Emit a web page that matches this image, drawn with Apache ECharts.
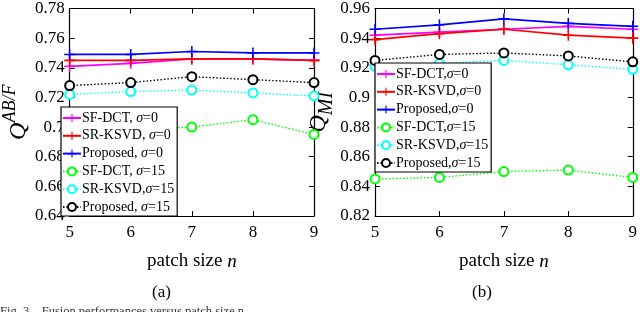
<!DOCTYPE html>
<html><head><meta charset="utf-8">
<script src="https://cdn.jsdelivr.net/npm/echarts@6/dist/echarts.min.js"></script>
<style>html,body{margin:0;padding:0;background:#fff}#c{width:640px;height:312px}</style>
</head><body><div id="c"></div>
<script>
const patchSizes = [5, 6, 7, 8, 9];
// (a) Q^{AB/F}
const qabfSfDct0   = [0.741, 0.743, 0.746, 0.746, 0.745];
const qabfSrKsvd0  = [0.745, 0.745, 0.746, 0.746, 0.745];
const qabfProp0    = [0.749, 0.749, 0.751, 0.750, 0.750];
const qabfSfDct15  = [0.696, 0.698, 0.700, 0.705, 0.695];
const qabfSrKsvd15 = [0.722, 0.724, 0.725, 0.723, 0.721];
const qabfProp15   = [0.728, 0.730, 0.734, 0.732, 0.730];
// (b) Q_MI
const qmiSfDct0   = [0.942, 0.944, 0.946, 0.948, 0.946];
const qmiSrKsvd0  = [0.939, 0.943, 0.946, 0.942, 0.940];
const qmiProp0    = [0.946, 0.949, 0.953, 0.950, 0.948];
const qmiSfDct15  = [0.845, 0.846, 0.850, 0.851, 0.846];
const qmiSrKsvd15 = [0.921, 0.923, 0.925, 0.922, 0.919];
const qmiProp15   = [0.925, 0.929, 0.930, 0.928, 0.924];

const namesA = ['SF-DCT, σ=0', 'SR-KSVD, σ=0', 'Proposed, σ=0', 'SF-DCT, σ=15', 'SR-KSVD,σ=15', 'Proposed, σ=15'];
const namesB = ['SF-DCT,σ=0', 'SR-KSVD,σ=0', 'Proposed,σ=0', 'SF-DCT,σ=15', 'SR-KSVD,σ=15 ', 'Proposed,σ=15'];
const colors = ['#ff00ff', '#ff0000', '#0000ff', '#00ff00', '#00ffff', '#000000'];

const FONT = 'Liberation Serif';
const plus = 'path://M4.3,0H5.7V4.3H10V5.7H5.7V10H4.3V5.7H0V4.3H4.3Z';

function mkSeries(names, datas, xi, yi) {
  return datas.map((d, i) => {
    const solid = i < 3;
    return {
      name: names[i], type: 'line', xAxisIndex: xi, yAxisIndex: yi,
      data: patchSizes.map((x, k) => [x, d[k]]),
      symbol: solid ? plus : 'emptyCircle',
      symbolSize: solid ? 11 : 9,
      showAllSymbol: true,
      lineStyle: { color: colors[i], width: solid ? 1.7 : 1.4, type: solid ? 'solid' : [1.5, 2] },
      itemStyle: { color: colors[i], borderColor: colors[i], borderWidth: solid ? 0 : 1.7 },
      emphasis: { disabled: true }, animation: false, z: 3
    };
  });
}

function legendFmt(name) {
  const n = name.trim();
  const idx = n.indexOf('σ');
  return '{a|' + n.slice(0, idx) + '}{i|σ}{a|' + n.slice(idx + 1) + '}';
}

const axCommon = {
  axisLine: { show: true, onZero: false, lineStyle: { color: '#000', width: 1.2 } },
  axisTick: { show: true, inside: true, length: 5, lineStyle: { color: '#000' } },
  splitLine: { show: false }
};

function xAxes(gi) {
  return [
    Object.assign({}, axCommon, {
      type: 'value', gridIndex: gi, min: 5, max: 9, interval: 1, position: 'bottom',
      axisLabel: { color: '#000', fontFamily: FONT, fontSize: 17, margin: 8 },
      name: '{a|patch size }{i|n}', nameLocation: 'middle', nameGap: 36,
      nameTextStyle: { rich: {
        a: { fontFamily: FONT, fontSize: 19, color: '#000' },
        i: { fontFamily: FONT, fontSize: 19, fontStyle: 'italic', color: '#000' } } }
    }),
    Object.assign({}, axCommon, {
      type: 'value', gridIndex: gi, min: 5, max: 9, interval: 1, position: 'top',
      axisLabel: { show: false }
    })
  ];
}

function yAxes(gi, min, max, nameStr, rich, gap) {
  return [
    Object.assign({}, axCommon, {
      type: 'value', gridIndex: gi, min: min, max: max, interval: 0.02, position: 'left',
      axisLabel: { color: '#000', fontFamily: FONT, fontSize: 17, margin: 5 },
      name: nameStr, nameLocation: 'middle', nameGap: gap, nameRotate: 90,
      nameTextStyle: { rich: rich }
    }),
    Object.assign({}, axCommon, {
      type: 'value', gridIndex: gi, min: min, max: max, interval: 0.02, position: 'right',
      axisLabel: { show: false }
    })
  ];
}

const legendRich = {
  a: { fontFamily: FONT, fontSize: 14, color: '#000', lineHeight: 15 },
  i: { fontFamily: FONT, fontSize: 14, fontStyle: 'italic', color: '#000', lineHeight: 15 }
};

function mkLegend(names, left, top) {
  return {
    data: names, orient: 'vertical', left: left, top: top,
    itemWidth: 18, itemHeight: 10, itemGap: 3.8,
    padding: [4, 3, 2, 1], selectedMode: false,
    backgroundColor: '#fff', borderColor: '#000', borderWidth: 1.2,
    formatter: legendFmt, textStyle: { rich: legendRich, padding: [0, 0, 0, -4] },
    z: 10
  };
}

const option = {
  animation: false,
  grid: [
    { left: 61, right: 326, top: 7, bottom: 96 },
    { left: 375, right: 5, top: 7, bottom: 96 }
  ],
  xAxis: [...xAxes(0), ...xAxes(1)],
  yAxis: [
    ...yAxes(0, 0.64, 0.78, '{q|Q}{s|AB/F}', {
      q: { fontFamily: FONT, fontSize: 24, fontStyle: 'italic', color: '#000', verticalAlign: 'bottom', lineHeight: 30 },
      s: { fontFamily: FONT, fontSize: 18, fontStyle: 'italic', color: '#000', verticalAlign: 'top', lineHeight: 30 } }, 37),
    ...yAxes(1, 0.82, 0.96, '{q|Q}{s|MI}', {
      q: { fontFamily: FONT, fontSize: 24, fontStyle: 'italic', color: '#000', verticalAlign: 'top', lineHeight: 30 },
      s: { fontFamily: FONT, fontSize: 20, fontStyle: 'italic', color: '#000', verticalAlign: 'bottom', lineHeight: 30 } }, 32)
  ],
  legend: [mkLegend(namesA, 61, 107), mkLegend(namesB, 375, 63)],
  series: [
    ...mkSeries(namesA, [qabfSfDct0, qabfSrKsvd0, qabfProp0, qabfSfDct15, qabfSrKsvd15, qabfProp15], 0, 0),
    ...mkSeries(namesB, [qmiSfDct0, qmiSrKsvd0, qmiProp0, qmiSfDct15, qmiSrKsvd15, qmiProp15], 2, 2)
  ],
  graphic: [
    { type: 'text', left: 152, top: 284, style: { text: '(a)', font: '17px "Liberation Serif"', fill: '#000' } },
    { type: 'text', left: 472, top: 284, style: { text: '(b)', font: '17px "Liberation Serif"', fill: '#000' } },
    { type: 'text', left: 0, top: 305, style: { text: 'Fig. 3.   Fusion performances versus patch size n.', font: '12.5px "Liberation Serif"', fill: '#333' } }
  ]
};
const chart = echarts.init(document.getElementById('c'), null, { renderer: 'canvas' });
chart.setOption(option);
</script></body></html>
